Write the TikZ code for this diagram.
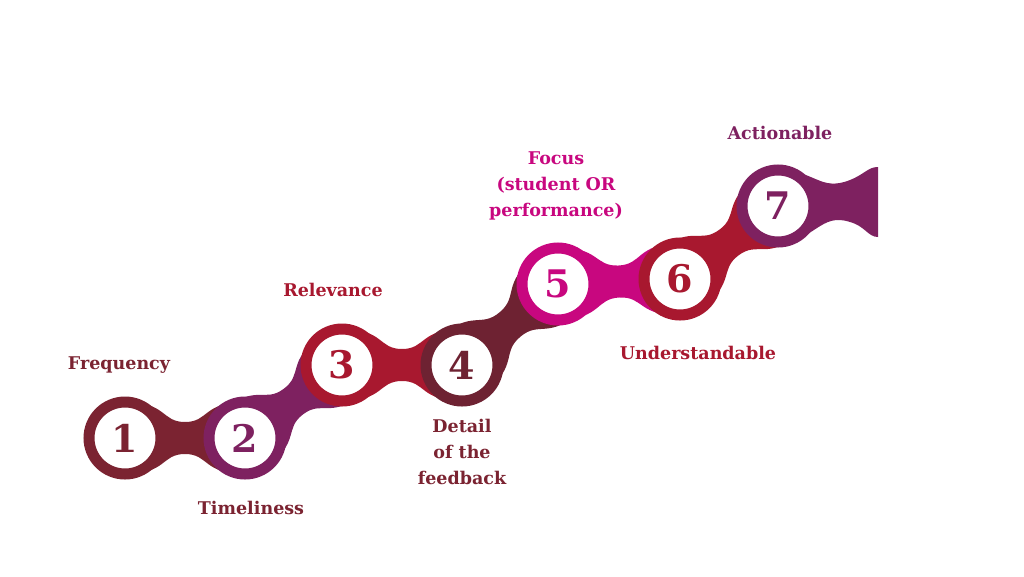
\documentclass[tikz,border=0pt]{standalone}
\usepackage{fontspec}
\setmainfont{DejaVu Serif}
\definecolor{cmar}{HTML}{7B2331}
\definecolor{cpur}{HTML}{7E2160}
\definecolor{cred}{HTML}{A8182F}
\definecolor{cdark}{HTML}{6E2232}
\definecolor{cmag}{HTML}{C8077F}
\newcommand\mypt[2]{({\xa+(#1)*\ux-(#2)*\uy},{\ya+(#1)*\uy+(#2)*\ux})}
\newcommand\mylink[5]{%
  \pgfmathsetmacro\xa{#1}\pgfmathsetmacro\ya{#2}%
  \pgfmathsetmacro\len{veclen(#3-#1,#4-#2)}%
  \pgfmathsetmacro\ux{(#3-#1)/\len}\pgfmathsetmacro\uy{(#4-#2)/\len}%
  \fill[#5] \mypt{0}{-36} .. controls \mypt{0.35*\len}{-36} and \mypt{0.3*\len}{-16} .. \mypt{0.5*\len}{-16}
    .. controls \mypt{0.7*\len}{-16} and \mypt{0.65*\len}{-36} .. \mypt{\len}{-36}
    -- \mypt{\len}{36} .. controls \mypt{0.65*\len}{36} and \mypt{0.7*\len}{16} .. \mypt{0.5*\len}{16}
    .. controls \mypt{0.3*\len}{16} and \mypt{0.35*\len}{36} .. \mypt{0}{36} -- cycle;}
\tikzset{
  ring/.style={circle, minimum size=72pt, inner sep=0pt, fill=white, draw=#1, line width=11pt, text=#1, font=\bfseries\fontsize{38}{40}\selectfont},
  lab/.style={text=#1, font=\bfseries\fontsize{17.5}{26}\selectfont, align=center}
}
\begin{document}
\begin{tikzpicture}[x=1pt,y=-1pt]
\path[use as bounding box, fill=white] (0,0) rectangle (1024,576);
\mylink{125}{438}{245}{438}{cmar}
\mylink{245}{438}{342}{365}{cpur}
\mylink{342}{365}{462}{365}{cred}
\mylink{462}{365}{558}{284}{cdark}
\mylink{558}{284}{680}{279}{cmag}
\mylink{680}{279}{778}{206}{cred}
\fill[cpur] (778,170) .. controls (815,170) and (820,192) .. (850,180)
  .. controls (865,174) and (868,167) .. (878,167) -- (878,237)
  .. controls (868,237) and (865,226) .. (850,222)
  .. controls (820,212) and (815,242) .. (778,242) -- cycle;
\node[ring=cmar] (n1) at (125,438) {1};
\node[ring=cpur] (n2) at (245,438) {2};
\node[ring=cred] (n3) at (342,365) {3};
\node[ring=cdark] (n4) at (462,365) {4};
\node[ring=cmag] (n5) at (558,284) {5};
\node[ring=cred] (n6) at (680,279) {6};
\node[ring=cpur] (n7) at (778,206) {7};
\node[lab=cmar] (l1) at (119,365) {Frequency};
\node[lab=cmar] (l2) at (251,508) {Timeliness};
\node[lab=cred] (l3) at (333,290) {Relevance};
\node[lab=cmar] (l4) at (462,452) {Detail\\of the\\feedback};
\node[lab=cmag] (l5) at (556,186) {Focus\\(student OR\\performance)};
\node[lab=cred] (l6) at (698,353) {Understandable};
\node[lab=cpur] (l7) at (780,133) {Actionable};
\end{tikzpicture}
\end{document}
